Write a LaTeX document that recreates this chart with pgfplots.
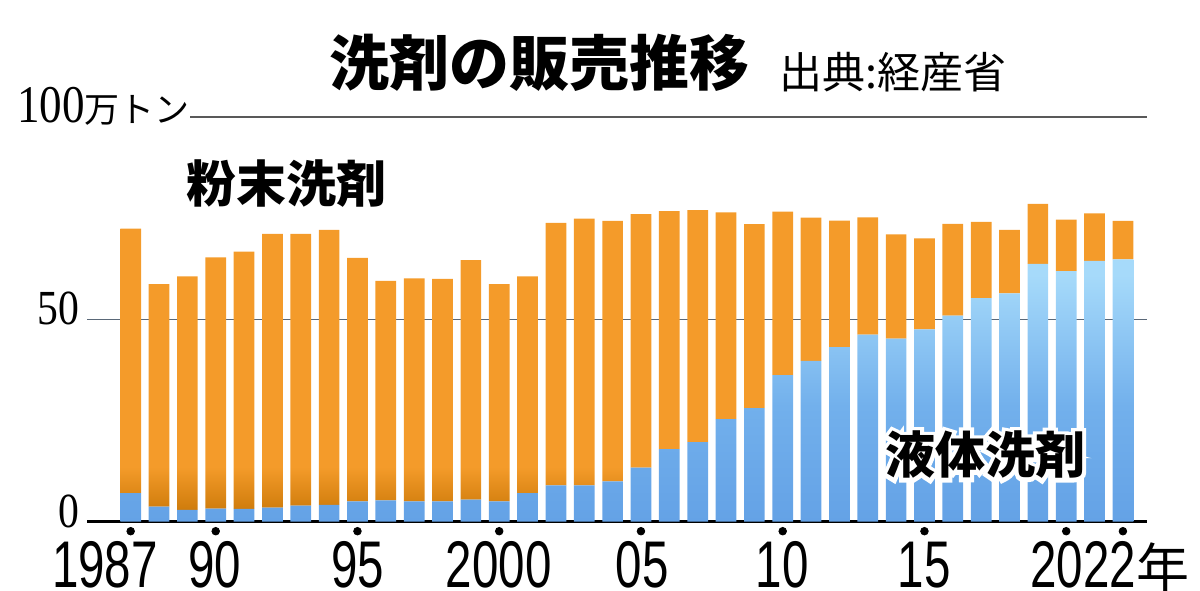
\documentclass[border=0pt]{standalone}
\usepackage{fontspec}
\usepackage{pgfplots}
\usepackage{pgfplotstable}
\pgfplotsset{compat=1.18}
\setmainfont{Liberation Sans}
\newfontfamily\jp{Noto Sans CJK JP}
\newfontfamily\jpglow[BoldFeatures={FakeBold=16}]{Noto Sans CJK JP}
\newfontfamily\yrfont[FakeStretch=0.72]{Liberation Sans}
\newfontfamily\ynfont[FakeStretch=0.85]{Liberation Serif}

\definecolor{orng}{HTML}{F49B2A}
\definecolor{ordark}{HTML}{CF7C0C}
\definecolor{blueL}{HTML}{A6DAFA}
\definecolor{blueM}{HTML}{72B0EC}
\definecolor{blueD}{HTML}{64A2E6}
\definecolor{grid50}{HTML}{5A6878}

% bar shadings: 25bp..75bp is mapped onto each bar
\pgfdeclareverticalshading{orshade}{100bp}{color(0bp)=(ordark); color(25bp)=(ordark); color(32bp)=(orng); color(100bp)=(orng)}
\pgfdeclareverticalshading{blshade}{100bp}{color(0bp)=(blueD); color(25bp)=(blueD); color(47bp)=(blueM); color(72bp)=(blueL); color(100bp)=(blueL)}

% year, liquid, powder (10^4 t)
\pgfplotstableread{
year liquid powder
1987 7.0 65.4
1988 3.7 55.0
1989 2.9 57.7
1990 3.2 62.1
1991 3.1 63.6
1992 3.4 67.7
1993 3.9 67.2
1994 4.1 68.0
1995 5.0 60.2
1996 5.2 54.3
1997 5.0 55.1
1998 5.0 55.0
1999 5.4 59.2
2000 5.0 53.7
2001 7.0 53.6
2002 8.9 64.9
2003 8.9 66.0
2004 9.9 64.4
2005 13.3 62.7
2006 17.9 58.8
2007 19.6 57.4
2008 25.3 51.1
2009 28.0 45.5
2010 36.2 40.4
2011 39.7 35.4
2012 43.1 31.3
2013 46.2 29.0
2014 45.2 25.8
2015 47.5 22.5
2016 50.9 22.7
2017 55.2 18.9
2018 56.4 15.7
2019 63.7 14.8
2020 61.9 12.7
2021 64.4 11.8
2022 64.8 9.5
}\data

\begin{document}
\begin{tikzpicture}
\useasboundingbox (0,0) rectangle (600bp,295.5bp);

\begin{axis}[
    at={(43.5bp,34.75bp)}, anchor=south west,
    scale only axis, width=530bp, height=202.25bp,
    xmin=1985.46, xmax=2022.85, ymin=0, ymax=100,
    hide axis, clip=false,
    ybar stacked, bar width=0.73,
]
\addplot[draw=none, shading=blshade] table[x=year, y=liquid] {\data};
\addplot[draw=none, shading=orshade] table[x=year, y=powder] {\data};
\draw[grid50, line width=0.7bp] (axis cs:1985.46,50) -- (axis cs:2022.85,50);
\draw[black!65, line width=0.9bp] (axis cs:1989.1,100) -- (axis cs:2022.85,100);
\draw[black, line width=1.6bp] (axis cs:1985.46,0) -- (axis cs:2022.85,0);
\end{axis}

\begin{axis}[
    at={(43.5bp,34.75bp)}, anchor=south west,
    scale only axis, width=530bp, height=202.25bp,
    xmin=1985.46, xmax=2022.85, ymin=0, ymax=100,
    hide axis, clip=false,
]
\addplot[only marks, mark=*, mark size=1.9bp, black]
  coordinates {(1987,-2.4)(1990,-2.4)(1995,-2.4)(2000,-2.4)(2005,-2.4)(2010,-2.4)(2015,-2.4)(2020,-2.4)(2022,-2.4)};
\end{axis}

% titles
\node[inner sep=0, font=\jp\bfseries\fontsize{30bp}{30bp}\selectfont] at (269.5bp,264bp) {洗剤の販売推移};
\node[inner sep=0, font=\jp\fontsize{21.5bp}{21.5bp}\selectfont] at (446.5bp,259.5bp) {出典:経産省};

% series labels
\node[inner sep=0, font=\jp\bfseries\fontsize{25bp}{25bp}\selectfont] at (143.25bp,203.5bp) {粉末洗剤};
\node[inner sep=0, text=white, font=\jpglow\bfseries\fontsize{25bp}{25bp}\selectfont] at (492.5bp,68bp) {液体洗剤};
\node[inner sep=0, font=\jp\bfseries\fontsize{25bp}{25bp}\selectfont] at (492.5bp,68bp) {液体洗剤};

% y labels
\node[anchor=base west, inner sep=0] at (8.5bp,234bp) {{\ynfont\fontsize{26.5bp}{26.5bp}\selectfont 100}{\jp\fontsize{17.5bp}{17.5bp}\selectfont 万トン}};
\node[anchor=base east, inner sep=0, font=\ynfont\fontsize{24.5bp}{24.5bp}\selectfont] at (40bp,133bp) {50};
\node[anchor=base east, inner sep=0, font=\ynfont\fontsize{24.5bp}{24.5bp}\selectfont] at (40bp,32bp) {0};

% x labels
\begin{scope}[every node/.style={anchor=base, inner sep=0, font=\yrfont\fontsize{33bp}{33bp}\selectfont}]
\node at (52.5bp,2bp) {1987};
\node at (107.5bp,2bp) {90};
\node at (178.75bp,2bp) {95};
\node at (249.35bp,2bp) {2000};
\node at (321bp,2bp) {05};
\node at (391bp,2bp) {10};
\node at (462bp,2bp) {15};
\node[anchor=base west] at (515bp,2bp) {2022{\jp\fontsize{26.5bp}{26.5bp}\selectfont 年}};
\end{scope}
\end{tikzpicture}
\end{document}
